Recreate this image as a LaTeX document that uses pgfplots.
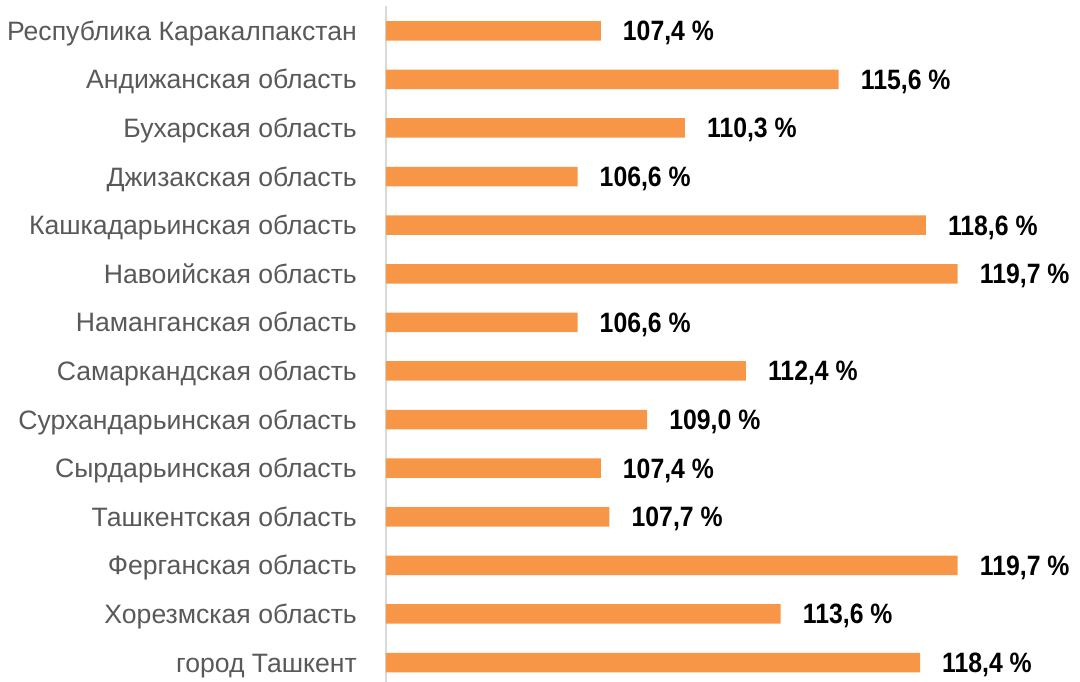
\documentclass[border=0pt]{standalone}
\usepackage{pgfplots}
\pgfplotsset{compat=1.18}
\usepackage{pgfplotstable}
\usepackage{fontspec}
\setmainfont{Liberation Sans}
\newfontfamily\labfont{Liberation Sans}[FakeStretch=0.885]
\definecolor{barc}{HTML}{F79646}
\definecolor{txt}{HTML}{595959}
\definecolor{axc}{HTML}{D9D9D9}
\pgfplotstableread{
y x
13 107.4
12 115.6
11 110.3
10 106.6
9 118.6
8 119.7
7 106.6
6 112.4
5 109.0
4 107.4
3 107.7
2 119.7
1 113.6
0 118.4
}\data
\begin{document}
\begin{tikzpicture}
\useasboundingbox (0,0) rectangle (1080pt,682pt);
\begin{axis}[
  at={(386pt,0pt)}, anchor=south west,
  scale only axis, width=653pt, height=676pt,
  xmin=100, xmax=122.5, ymin=-0.40, ymax=13.51,
  xbar, bar width=19.5pt, bar shift=0pt,
  hide x axis,
  axis y line*=left,
  y axis line style={draw=axc, line width=1.2pt, -},
  ytick={0,...,13},
  yticklabels={город Ташкент, Хорезмская область, Ферганская область, Ташкентская область, Сырдарьинская область, Сурхандарьинская область, Самаркандская область, Наманганская область, Навоийская область, Кашкадарьинская область, Джизакская область, Бухарская область, Андижанская область, Республика Каракалпакстан},
  major tick length=0pt,
  yticklabel style={font=\fontsize{26.6}{30}\selectfont, text=txt, inner sep=0pt, anchor=base east, xshift=-29pt, yshift=-9.5pt},
  point meta=x,
  nodes near coords={\pgfmathprintnumber[fixed,fixed zerofill,precision=1,use comma,assume math mode=true]{\pgfplotspointmeta}~\%},
  nodes near coords style={anchor=base west, inner sep=0pt, xshift=22pt, yshift=-10pt, font=\labfont\bfseries\fontsize{28}{30}\selectfont, text=black},
  clip=false,
]
\addplot[fill=barc, draw=none] table[x=x,y=y]{\data};
\end{axis}
\end{tikzpicture}
\end{document}
